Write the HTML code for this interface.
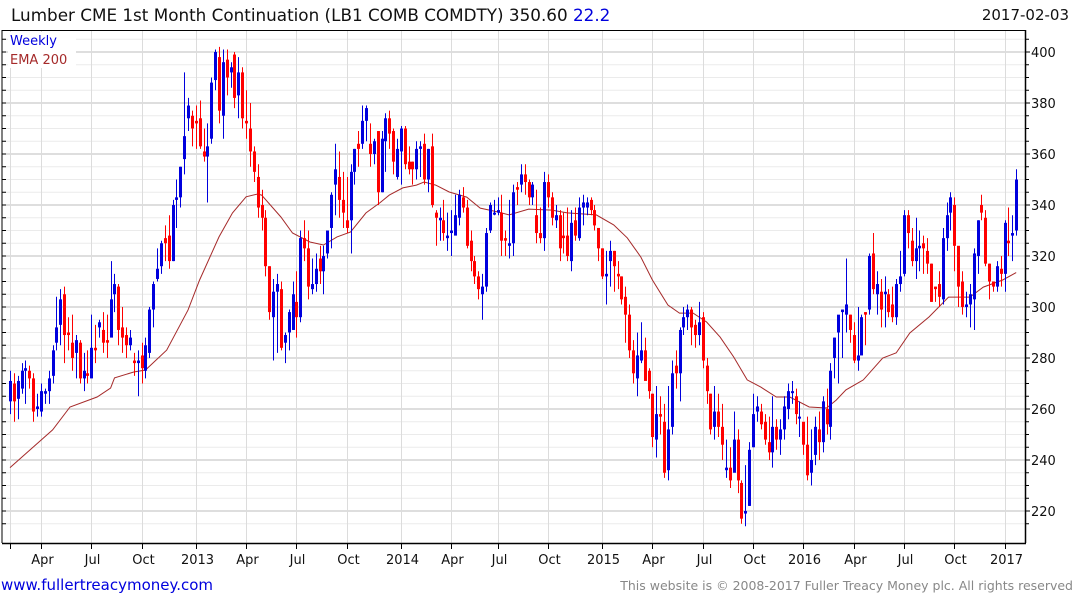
<!DOCTYPE html>
<html><head><meta charset="utf-8"><style>
body{margin:0;background:#fff;width:1075px;height:600px;overflow:hidden;font-family:"DejaVu Sans","Liberation Sans",sans-serif}
</style></head><body>
<svg id="chart" width="1075" height="600" xmlns="http://www.w3.org/2000/svg" font-family="DejaVu Sans, Liberation Sans, sans-serif">
<text x="11" y="21" font-size="16.8" fill="#111">Lumber CME 1st Month Continuation (LB1 COMB COMDTY) 350.60 <tspan fill="#0000dd">22.2</tspan></text>
<text x="1069" y="20" font-size="15" fill="#111" text-anchor="end">2017-02-03</text>
<g id="grid"></g>
<g id="ema"></g>
<g id="candles"></g>
<g id="axes"></g>
<rect x="8" y="32" width="68" height="36" fill="#fff"/>
<text x="10" y="45" font-size="13" fill="#0000dd">Weekly</text>
<text x="10" y="64" font-size="13" fill="#a52a2a">EMA 200</text>
<text x="1" y="590" font-size="15" fill="#0000dd">www.fullertreacymoney.com</text>
<text x="1073" y="590" font-size="12.5" fill="#888" text-anchor="end">This website is © 2008-2017 Fuller Treacy Money plc. All rights reserved</text>
</svg>
<script>
const opens=[263,270,264,268,275,275,272,260,259,266,267,273,286,293,305,290,286,282,286,272,274,272,284,292,291,287,288,305,308,292,289,285,279,278,281,275,282,299,311,316,327,328,318,342,343,358,374,375,373,374,361,359,366,389,398,375,397,392,399,383,392,373,370,361,351,
340,335,316,296,306,307,286,290,291,302,296,327,323,307,309,319,314,321,331,348,351,342,334,334,353,364,364,373,364,360,369,345,365,374,369,351,361,370,357,357,354,362,364,350,363,337,334,334,327,329,328,335,343,339,326,318,312,305,308,330,337,337,337,327,324,
325,347,348,352,349,343,336,329,327,349,343,334,336,328,328,318,334,327,339,339,342,338,331,323,312,318,322,313,312,304,297,283,272,279,283,275,266,248,258,255,236,253,277,274,292,296,299,293,289,296,277,266,253,259,253,236,237,235,248,231,219,222,245,259,259,
255,247,243,253,248,252,260,267,265,257,255,246,235,242,252,247,260,253,280,290,298,297,297,289,279,281,298,299,321,305,306,305,305,301,296,309,313,336,326,318,323,325,322,317,308,309,303,327,337,340,324,310,300,301,303,320,340,335,317,310,308,315,313,326,328,330];
const closes=[271,263,271,275,276,272,259,261,267,267,272,283,292,303,289,289,280,287,272,275,273,284,283,294,286,286,303,309,291,288,285,288,278,279,276,285,299,309,315,325,325,318,340,343,355,367,379,370,372,363,359,363,388,400,377,396,390,394,382,392,374,372,361,353,339,
335,316,298,306,309,284,289,298,305,296,327,323,308,309,315,314,320,330,344,354,342,337,331,353,362,362,373,378,360,365,345,366,374,368,357,362,370,356,354,354,362,363,350,362,340,335,335,329,328,330,336,344,339,324,318,312,307,308,329,340,337,338,326,326,325,
345,346,352,349,343,348,329,327,349,343,335,336,323,327,320,333,328,339,341,341,338,332,323,312,313,322,316,312,303,297,283,274,281,283,271,267,249,258,257,235,252,274,274,291,296,299,292,289,294,279,267,252,259,253,246,237,232,248,232,217,220,244,258,261,254,
248,243,253,248,252,261,267,267,258,257,246,234,240,253,247,263,254,275,288,297,299,301,291,279,281,296,297,320,307,309,299,306,298,296,309,312,336,329,318,323,324,323,317,302,307,304,327,336,343,324,308,300,301,305,321,334,337,317,310,308,316,313,333,325,329,350];
const highs=[275,274,273,278,279,277,274,266,270,268,275,285,304,307,308,296,297,289,287,282,283,297,293,295,298,297,318,313,309,300,292,291,282,283,286,288,300,310,323,326,332,336,342,350,355,392,382,377,379,381,370,372,390,401,402,401,401,396,400,398,394,385,380,363,356,
346,338,316,311,313,310,290,299,310,314,330,334,330,319,321,324,324,330,345,364,361,353,351,356,362,369,379,379,372,366,369,369,376,377,370,366,371,371,363,357,365,365,368,362,368,338,339,342,337,338,344,346,347,342,330,320,314,313,331,341,342,343,344,330,342,
348,349,356,356,350,349,346,339,353,352,345,340,338,337,339,338,339,343,344,343,343,340,330,323,322,326,322,318,312,308,301,287,290,294,288,276,266,269,265,262,269,279,283,292,300,301,300,295,302,298,280,266,269,266,262,248,245,259,252,232,238,247,266,265,262,
258,257,265,256,256,265,270,271,268,263,254,257,252,257,259,265,268,278,288,295,299,319,297,294,300,297,298,321,329,314,311,312,307,308,311,322,338,338,331,335,330,328,327,317,308,314,331,341,345,343,311,314,306,309,323,334,344,338,317,310,318,320,334,339,336,354];
const lows=[258,255,256,266,262,268,255,257,257,262,262,270,283,285,278,283,275,272,270,267,270,275,278,288,282,280,300,298,285,282,280,283,273,265,270,272,280,292,310,313,318,315,318,331,339,352,369,363,362,362,357,341,364,385,372,366,383,386,378,374,370,366,355,349,335,
330,312,295,279,282,283,278,283,291,288,294,318,303,305,306,309,305,319,323,336,335,331,329,321,348,355,362,365,355,356,340,345,353,362,352,350,348,354,352,348,350,351,348,345,339,324,326,326,322,320,333,332,337,323,314,309,303,295,306,329,336,336,320,320,319,
320,340,345,344,340,340,325,325,322,339,332,331,318,321,318,314,326,326,332,336,336,330,318,311,301,308,306,307,301,286,280,270,265,278,272,264,245,241,250,233,232,250,268,263,289,291,285,284,285,276,262,250,248,249,240,233,229,238,227,215,214,222,245,255,252,
246,240,237,244,242,248,256,262,254,249,242,232,230,238,240,243,250,248,272,270,280,290,286,278,275,282,285,297,305,297,292,292,296,294,293,306,312,323,316,311,314,313,313,302,302,300,301,322,330,314,300,297,296,292,291,313,334,316,303,306,306,308,306,320,318,328];
const emaWeek=[0,11,15.5,22.5,26,27,32,35,40.5,46,49,54,57.5,61,64,65,70,73,77.5,81,84.5,88,92,95.5,98,101.5,105,107,110,113.5,118,121.5,126,129,134,140,144,151.5,156,159.5,163,166,170,173,176.5,180,183.5,187,190.5,194,198,201.5,206.5,211,213.5,216,220.5,225.5,229,232.5,237.5,242.5,248,251.5,256.5,260];
const emaVal=[237,251.8,260.8,264.7,268.2,272.2,274.5,275.3,283.1,298.8,310.6,327.5,336.9,343.2,344.3,343.9,335.3,329,325.5,324.3,327.5,329.4,336.9,340.8,343.9,346.7,347.8,349,347.8,345.1,343.1,338.8,337.3,336.1,338.4,338,336.9,336.1,332.2,327.1,319.6,310.6,300.8,297.6,297.6,294.1,288.2,280.4,271.4,268.6,264.7,264.7,260.8,260.4,263.5,267.5,271.4,280,282,289.8,296.1,303.9,303.9,307.8,310.6,313.5];
const yTicks=[220,240,260,280,300,320,340,360,380,400];
const xTickLabels=['','Apr','Jul','Oct','2013','Apr','Jul','Oct','2014','Apr','Jul','Oct','2015','Apr','Jul','Oct','2016','Apr','Jul','Oct','2017'];
const xTickWeeks=[0,8,21,34,48,61,74,87,101,114,126,139,153,166,179,192,205,218,231,244,257];

const NS='http://www.w3.org/2000/svg';
const L=2,R=1025,T=30,B=543;
function X(i){return 10+i*3.87;}
function Y(p){return 52+(400-p)*2.55;}
function mk(tag,attrs,parent){const e=document.createElementNS(NS,tag);for(const k in attrs)e.setAttribute(k,attrs[k]);parent.appendChild(e);return e;}
const grid=document.getElementById('grid'),axes=document.getElementById('axes'),cg=document.getElementById('candles'),eg=document.getElementById('ema');
for(let p=215;p<=405;p+=5){const y=Y(p);if(y<T||y>B)continue;
 const ln=mk('line',{x1:L,x2:R,y1:y,y2:y,stroke:p%20===0?'#bdbdbd':'#ebebeb','stroke-width':1},grid);
 
 
 const tk=mk('line',{x1:R,x2:R+(p%20===0?5:4),y1:y,y2:y,stroke:'#000'},axes);
 
 
 const lt=mk('line',{x1:L,x2:L+4,y1:y,y2:y,stroke:'#000'},axes);
 
 
}
yTicks.forEach(v=>{const t=mk('text',{x:R+6,y:Y(v)+5,'font-size':13,fill:'#111'},axes);t.textContent=v;
 
 });
xTickWeeks.forEach((w,k)=>{const x=Math.round(X(w))+0.5;
 const g=mk('line',{x1:x,x2:x,y1:T,y2:B,stroke:'#dcdcdc'},grid);
 
 
 const tk=mk('line',{x1:x,x2:x,y1:B,y2:B+6,stroke:'#000'},axes);
 
 
 if(xTickLabels[k]){const t=mk('text',{x:x+1,y:564,'font-size':13,fill:'#111','text-anchor':'middle'},axes);t.textContent=xTickLabels[k];
 
 }
});
const f1=mk('line',{x1:L,x2:R,y1:T+0.5,y2:T+0.5,stroke:'#000'},axes);


const f2=mk('line',{x1:L,x2:R+1,y1:B+0.5,y2:B+0.5,stroke:'#000','stroke-width':1.5},axes);


const f3=mk('line',{x1:R+0.5,x2:R+0.5,y1:T,y2:B,stroke:'#000','stroke-width':1.5},axes);


const f4=mk('line',{x1:L,x2:L,y1:T,y2:B,stroke:'#000'},axes);


const pts=emaWeek.map((w,k)=>X(w).toFixed(1)+','+Y(emaVal[k]).toFixed(1)).join(' ');
const pl=mk('polyline',{points:pts,fill:'none',stroke:'#a52a2a','stroke-width':1},eg);


for(let i=0;i<closes.length;i++){
 const o=opens[i],c=closes[i],col=c>=o?'#0000dd':'#ff0000',x=Math.round(X(i));
 const g=mk('g',{},cg);
 
 
 mk('line',{x1:x+0.5,x2:x+0.5,y1:Y(highs[i]),y2:Y(lows[i]),stroke:col,'stroke-width':1},g);
 const top=Y(Math.max(o,c)),h=Math.max(2,Y(Math.min(o,c))-top);
 mk('rect',{x:x-1,y:top,width:3,height:h,fill:col},g);
}
</script>
</body></html>
